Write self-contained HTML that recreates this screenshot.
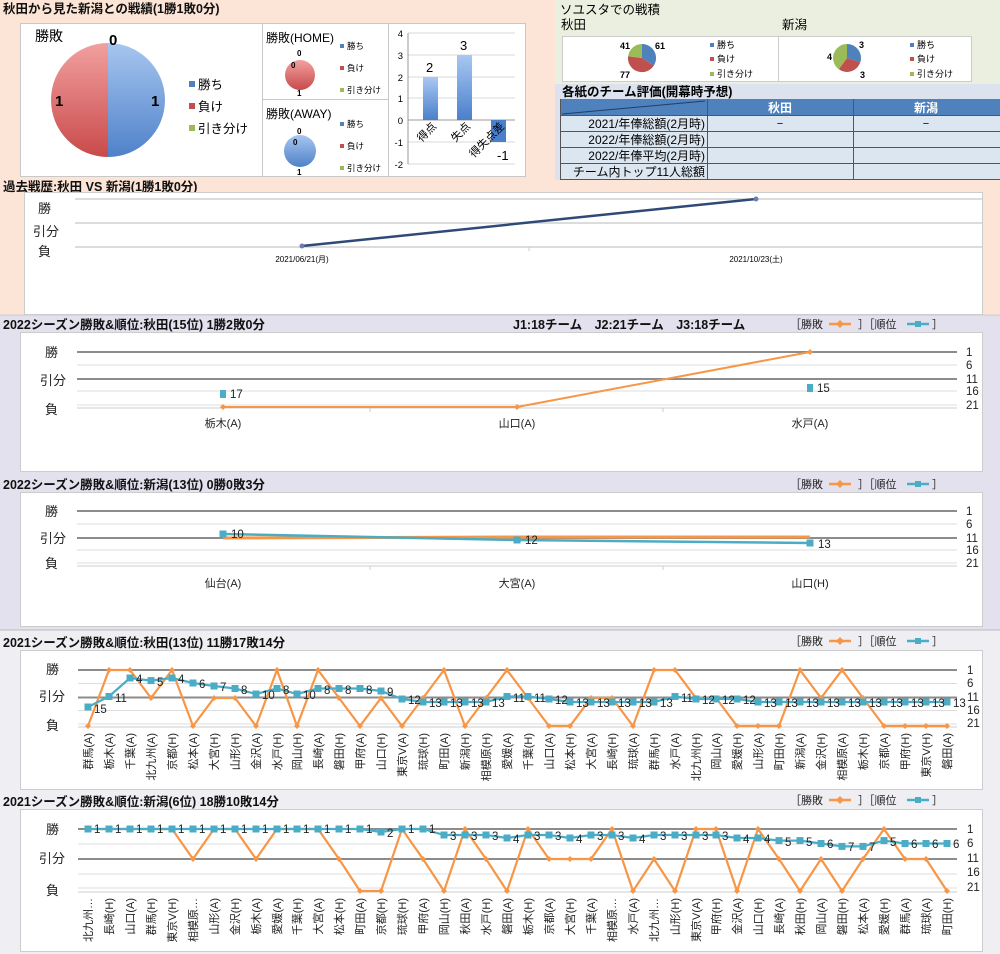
<!DOCTYPE html>
<html><head><meta charset="utf-8"><style>
html,body{margin:0;padding:0;background:#fff;}
svg{display:block;font-family:"Liberation Sans","Noto Sans CJK JP",sans-serif;}
.t{font-size:12.5px;font-weight:bold;fill:#111;}
.s{font-size:11px;fill:#222;}
.ax{font-size:13px;fill:#222;}
.rk{font-size:11.5px;fill:#222;}
.lb{font-size:11px;fill:#222;}
</style></head><body>
<svg width="1000" height="954" viewBox="0 0 1000 954" xmlns="http://www.w3.org/2000/svg">
<defs>
<linearGradient id="gb" x1="0" y1="0" x2="0" y2="1"><stop offset="0" stop-color="#a7c6f0"/><stop offset="1" stop-color="#4f81c9"/></linearGradient>
<linearGradient id="gr" x1="0" y1="0" x2="0" y2="1"><stop offset="0" stop-color="#f2a0a0"/><stop offset="1" stop-color="#c94a4a"/></linearGradient>
<linearGradient id="gbar" x1="0" y1="0" x2="0" y2="1"><stop offset="0" stop-color="#a9c8f2"/><stop offset="1" stop-color="#4a7fcb"/></linearGradient>
<marker id="sq" markerWidth="8" markerHeight="8" refX="4" refY="4" markerUnits="userSpaceOnUse"><rect x="0.5" y="0.5" width="7" height="7" fill="#4bacc6"/></marker>
<marker id="dm" markerWidth="6" markerHeight="6" refX="3" refY="3" markerUnits="userSpaceOnUse"><path d="M3,0 L6,3 L3,6 L0,3Z" fill="#f79646"/></marker>
</defs>
<!-- backgrounds -->
<rect x="0" y="0" width="1000" height="315" fill="#fce4d6"/>
<rect x="555" y="0" width="445" height="84" fill="#ebefdf"/>
<rect x="555" y="84" width="445" height="96" fill="#dce3ee"/>
<rect x="0" y="315" width="1000" height="315" fill="#e4e1ee"/>
<rect x="0" y="630" width="1000" height="324" fill="#efeef3"/>
<line x1="0" y1="630" x2="1000" y2="630" stroke="#bbb"/>
<line x1="0" y1="315" x2="1000" y2="315" stroke="#ccc"/>

<!-- top-left -->
<text class="t" x="3" y="13">秋田から見た新潟との戦績(1勝1敗0分)</text>
<rect x="20.5" y="23.5" width="505" height="153" fill="#fff" stroke="#c8c8c8"/>
<line x1="262.5" y1="23" x2="262.5" y2="177" stroke="#c8c8c8"/>
<line x1="388.5" y1="23" x2="388.5" y2="177" stroke="#c8c8c8"/>
<line x1="262" y1="99.5" x2="388" y2="99.5" stroke="#c8c8c8"/>
<text x="35" y="41" style="font-size:14px">勝敗</text>
<path d="M108,43 A57,57 0 0 1 108,157 Z" fill="url(#gb)"/>
<path d="M108,43 A57,57 0 0 0 108,157 Z" fill="url(#gr)"/>
<text x="109" y="45" style="font-size:15px;font-weight:bold">0</text>
<text x="55" y="106" style="font-size:15px;font-weight:bold">1</text>
<text x="151" y="106" style="font-size:15px;font-weight:bold">1</text>
<rect x="189" y="81" width="6" height="6" fill="#4f81bd"/><text x="198" y="89" style="font-size:12.5px">勝ち</text>
<rect x="189" y="103" width="6" height="6" fill="#c0504d"/><text x="198" y="111" style="font-size:12.5px">負け</text>
<rect x="189" y="125" width="6" height="6" fill="#9bbb59"/><text x="198" y="133" style="font-size:12.5px">引き分け</text>

<text x="266" y="42" style="font-size:12px">勝敗(HOME)</text>
<circle cx="300" cy="75" r="15" fill="url(#gr)"/>
<text x="297" y="56" style="font-size:8px;font-weight:bold">0</text>
<text x="291" y="68" style="font-size:8px;font-weight:bold">0</text>
<text x="297" y="96" style="font-size:8px;font-weight:bold">1</text>
<rect x="340" y="44" width="4" height="4" fill="#4f81bd"/><text x="347" y="49" style="font-size:8.5px">勝ち</text>
<rect x="340" y="66" width="4" height="4" fill="#c0504d"/><text x="347" y="71" style="font-size:8.5px">負け</text>
<rect x="340" y="88" width="4" height="4" fill="#9bbb59"/><text x="347" y="93" style="font-size:8.5px">引き分け</text>
<text x="266" y="118" style="font-size:12px">勝敗(AWAY)</text>
<circle cx="300" cy="151" r="16" fill="url(#gb)"/>
<text x="297" y="134" style="font-size:8px;font-weight:bold">0</text>
<text x="293" y="145" style="font-size:8px;font-weight:bold">0</text>
<text x="297" y="175" style="font-size:8px;font-weight:bold">1</text>
<rect x="340" y="122" width="4" height="4" fill="#4f81bd"/><text x="347" y="127" style="font-size:8.5px">勝ち</text>
<rect x="340" y="144" width="4" height="4" fill="#c0504d"/><text x="347" y="149" style="font-size:8.5px">負け</text>
<rect x="340" y="166" width="4" height="4" fill="#9bbb59"/><text x="347" y="171" style="font-size:8.5px">引き分け</text>

<g stroke="#d9d9d9"><line x1="408" y1="33" x2="515" y2="33"/><line x1="408" y1="55" x2="515" y2="55"/><line x1="408" y1="77" x2="515" y2="77"/><line x1="408" y1="98" x2="515" y2="98"/><line x1="408" y1="142" x2="515" y2="142"/><line x1="408" y1="164" x2="515" y2="164"/></g>
<line x1="408" y1="120" x2="515" y2="120" stroke="#999"/>
<line x1="408" y1="33" x2="408" y2="164" stroke="#999"/>
<g style="font-size:9.5px" text-anchor="end"><text x="403" y="37">4</text><text x="403" y="59">3</text><text x="403" y="81">2</text><text x="403" y="102">1</text><text x="403" y="124">0</text><text x="403" y="146">-1</text><text x="403" y="168">-2</text></g>
<rect x="423" y="77" width="15" height="43" fill="url(#gbar)"/>
<rect x="457" y="55" width="15" height="65" fill="url(#gbar)"/>
<rect x="491" y="120" width="15" height="22" fill="#4a7fcb"/>
<text x="426" y="72" style="font-size:13px">2</text>
<text x="460" y="50" style="font-size:13px">3</text>
<text x="497" y="160" style="font-size:13px">-1</text>
<g style="font-size:11px"><text transform="translate(437,127) rotate(-45)" text-anchor="end">得点</text><text transform="translate(471,127) rotate(-45)" text-anchor="end">失点</text><text transform="translate(505,127) rotate(-45)" text-anchor="end">得失点差</text></g>

<!-- top-right -->
<text x="560" y="14" style="font-size:12.5px">ソユスタでの戦積</text>
<text x="561" y="29" style="font-size:12.5px">秋田</text>
<text x="782" y="29" style="font-size:12.5px">新潟</text>
<rect x="562.5" y="36.5" width="216" height="45" fill="#fff" stroke="#ccc"/>
<rect x="778.5" y="36.5" width="193" height="45" fill="#fff" stroke="#ccc"/>
<path d="M642,58 L642,44 A14,14 0 0 1 653.8,65.6 Z" fill="#4f81bd"/>
<path d="M642,58 L653.8,65.6 A14,14 0 0 1 628.1,56.2 Z" fill="#c0504d"/>
<path d="M642,58 L628.1,56.2 A14,14 0 0 1 642,44 Z" fill="#9bbb59"/>
<g style="font-size:9px;font-weight:bold"><text x="620" y="49">41</text><text x="655" y="49">61</text><text x="620" y="78">77</text></g>
<rect x="710" y="43" width="4" height="4" fill="#4f81bd"/><text x="717" y="48" style="font-size:9px">勝ち</text>
<rect x="710" y="57" width="4" height="4" fill="#c0504d"/><text x="717" y="62" style="font-size:9px">負け</text>
<rect x="710" y="72" width="4" height="4" fill="#9bbb59"/><text x="717" y="77" style="font-size:9px">引き分け</text>
<path d="M847,58 L847,44 A14,14 0 0 1 860.3,62.3 Z" fill="#4f81bd"/>
<path d="M847,58 L860.3,62.3 A14,14 0 0 1 838.8,69.3 Z" fill="#c0504d"/>
<path d="M847,58 L838.8,69.3 A14,14 0 0 1 847,44 Z" fill="#9bbb59"/>
<g style="font-size:9px;font-weight:bold"><text x="859" y="48">3</text><text x="827" y="60">4</text><text x="860" y="78">3</text></g>
<rect x="910" y="43" width="4" height="4" fill="#4f81bd"/><text x="917" y="48" style="font-size:9px">勝ち</text>
<rect x="910" y="57" width="4" height="4" fill="#c0504d"/><text x="917" y="62" style="font-size:9px">負け</text>
<rect x="910" y="72" width="4" height="4" fill="#9bbb59"/><text x="917" y="77" style="font-size:9px">引き分け</text>
<text x="562" y="96" style="font-size:12.5px;font-weight:bold">各紙のチーム評価(開幕時予想)</text>
<rect x="560" y="99" width="440" height="16" fill="#4f81bd"/>
<rect x="560" y="115" width="440" height="64" fill="#dce6f1"/>
<line x1="562" y1="114" x2="705" y2="101" stroke="#1f3d6b"/>
<g stroke="#555" stroke-width="1"><line x1="560" y1="115.5" x2="1000" y2="115.5"/><line x1="560" y1="131.5" x2="1000" y2="131.5"/><line x1="560" y1="147.5" x2="1000" y2="147.5"/><line x1="560" y1="163.5" x2="1000" y2="163.5"/><line x1="560" y1="179.5" x2="1000" y2="179.5"/><line x1="560.5" y1="99" x2="560.5" y2="180"/><line x1="707.5" y1="99" x2="707.5" y2="180"/><line x1="853.5" y1="99" x2="853.5" y2="180"/></g>
<text x="780" y="112" text-anchor="middle" style="font-size:12px;font-weight:bold;fill:#fff">秋田</text>
<text x="926" y="112" text-anchor="middle" style="font-size:12px;font-weight:bold;fill:#fff">新潟</text>
<g style="font-size:12px" text-anchor="end"><text x="705" y="128">2021/年俸総額(2月時)</text><text x="705" y="144">2022/年俸総額(2月時)</text><text x="705" y="160">2022/年俸平均(2月時)</text><text x="705" y="176">チーム内トップ11人総額</text></g>
<text x="780" y="127" text-anchor="middle" style="font-size:11px">−</text>
<text x="926" y="127" text-anchor="middle" style="font-size:11px">−</text>

<!-- past history -->
<text class="t" x="3" y="191">過去戦歴:秋田 VS 新潟(1勝1敗0分)</text>
<rect x="24.5" y="192.5" width="958" height="122" fill="#fff" stroke="#ccc"/>
<g stroke="#d0d0d0" stroke-width="1.5"><line x1="75" y1="199" x2="982" y2="199"/><line x1="75" y1="223" x2="982" y2="223"/><line x1="75" y1="247" x2="982" y2="247"/></g>
<line x1="529" y1="247" x2="529" y2="251" stroke="#ccc"/>
<polyline points="302,246 756,199" fill="none" stroke="#2f4a78" stroke-width="2.5"/>
<circle cx="302" cy="246" r="2.5" fill="#6a7fb0"/><circle cx="756" cy="199" r="2.5" fill="#6a7fb0"/>
<text class="ax" x="38" y="213">勝</text><text class="ax" x="33" y="236">引分</text><text class="ax" x="38" y="256">負</text>
<text x="302" y="262" text-anchor="middle" style="font-size:8px">2021/06/21(月)</text>
<text x="756" y="262" text-anchor="middle" style="font-size:8px">2021/10/23(土)</text>

<!-- 2022 Akita -->
<text class="t" x="3" y="329">2022シーズン勝敗&amp;順位:秋田(15位) 1勝2敗0分</text>
<text class="t" x="513" y="329">J1:18チーム　J2:21チーム　J3:18チーム</text>
<g id="lg1"><text x="790" y="328" class="s">［勝敗</text><line x1="829" y1="324" x2="851" y2="324" stroke="#f79646" stroke-width="2.5"/><path d="M840,320 L844,324 L840,328 L836,324Z" fill="#f79646"/><text x="858" y="328" class="s">］［順位</text><line x1="907" y1="324" x2="929" y2="324" stroke="#4bacc6" stroke-width="2.5"/><rect x="915" y="321" width="6" height="6" fill="#4bacc6"/><text x="932" y="328" class="s">］</text></g>
<rect x="20.5" y="332.5" width="962" height="139" fill="#fff" stroke="#ccc"/>
<g stroke="#ddd"><line x1="77" y1="365" x2="957" y2="365"/><line x1="77" y1="391" x2="957" y2="391"/><line x1="77" y1="405" x2="957" y2="405"/></g>
<g stroke="#8c8c8c" stroke-width="2"><line x1="77" y1="352" x2="957" y2="352"/><line x1="77" y1="379" x2="957" y2="379"/></g>
<line x1="77" y1="408" x2="957" y2="408" stroke="#ccc"/>
<g stroke="#ccc"><line x1="370" y1="408" x2="370" y2="412"/><line x1="663" y1="408" x2="663" y2="412"/></g>
<text class="ax" x="45" y="357">勝</text><text class="ax" x="40" y="385">引分</text><text class="ax" x="45" y="414">負</text>
<g class="rk"><text x="966" y="356">1</text><text x="966" y="369">6</text><text x="966" y="383">11</text><text x="966" y="395">16</text><text x="966" y="409">21</text></g>
<polyline points="223,407 517,407 810,352" fill="none" stroke="#f79646" stroke-width="2" marker-start="url(#dm)" marker-mid="url(#dm)" marker-end="url(#dm)"/>
<rect x="220" y="390" width="6" height="8" fill="#4bacc6"/><text class="rk" x="230" y="398">17</text>
<rect x="807" y="384" width="6" height="8" fill="#4bacc6"/><text class="rk" x="817" y="392">15</text>
<g class="lb" text-anchor="middle"><text x="223" y="427">栃木(A)</text><text x="517" y="427">山口(A)</text><text x="810" y="427">水戸(A)</text></g>

<!-- 2022 Niigata -->
<text class="t" x="3" y="489">2022シーズン勝敗&amp;順位:新潟(13位) 0勝0敗3分</text>
<use href="#lg1" transform="translate(0,160)"/>
<rect x="20.5" y="492.5" width="962" height="134" fill="#fff" stroke="#ccc"/>
<g stroke="#ddd"><line x1="77" y1="524" x2="957" y2="524"/><line x1="77" y1="550" x2="957" y2="550"/><line x1="77" y1="563" x2="957" y2="563"/></g>
<g stroke="#8c8c8c" stroke-width="2"><line x1="77" y1="511" x2="957" y2="511"/><line x1="77" y1="538" x2="957" y2="538"/></g>
<line x1="77" y1="566" x2="957" y2="566" stroke="#ccc"/>
<g stroke="#ccc"><line x1="370" y1="566" x2="370" y2="570"/><line x1="663" y1="566" x2="663" y2="570"/></g>
<text class="ax" x="45" y="516">勝</text><text class="ax" x="40" y="543">引分</text><text class="ax" x="45" y="568">負</text>
<g class="rk"><text x="966" y="515">1</text><text x="966" y="528">6</text><text x="966" y="542">11</text><text x="966" y="554">16</text><text x="966" y="567">21</text></g>
<polyline points="223,538 517,537 810,537" fill="none" stroke="#f79646" stroke-width="3"/>
<polyline points="223,534 517,540 810,543" fill="none" stroke="#4bacc6" stroke-width="2.5" marker-start="url(#sq)" marker-mid="url(#sq)" marker-end="url(#sq)"/>
<text class="rk" x="231" y="538">10</text><text class="rk" x="525" y="544">12</text><text class="rk" x="818" y="548">13</text>
<g class="lb" text-anchor="middle"><text x="223" y="587">仙台(A)</text><text x="517" y="587">大宮(A)</text><text x="810" y="587">山口(H)</text></g>

<!-- 2021 Akita -->
<text class="t" x="3" y="647">2021シーズン勝敗&amp;順位:秋田(13位) 11勝17敗14分</text>
<use href="#lg1" transform="translate(0,317)"/>
<rect x="20.5" y="650.5" width="962" height="139" fill="#fff" stroke="#ccc"/>
<g stroke="#ddd"><line x1="78" y1="683.5" x2="957" y2="683.5"/><line x1="78" y1="710.5" x2="957" y2="710.5"/><line x1="78" y1="724" x2="957" y2="724"/></g>
<g stroke="#8c8c8c" stroke-width="2"><line x1="78" y1="670" x2="957" y2="670"/><line x1="78" y1="697.5" x2="957" y2="697.5"/></g>
<line x1="78" y1="727" x2="957" y2="727" stroke="#ccc"/>
<text class="ax" x="46" y="674">勝</text><text class="ax" x="39" y="701">引分</text><text class="ax" x="46" y="730">負</text>
<g class="rk"><text x="967" y="674">1</text><text x="967" y="687">6</text><text x="967" y="701">11</text><text x="967" y="714">16</text><text x="967" y="727">21</text></g>
<polyline points="88,726 109,670 130,670 151,698 172,670 193,726 214,698 235,698 256,726 277,670 297,726 318,670 339,698 360,726 381,698 402,726 423,698 444,670 465,726 486,698 507,670 528,698 549,726 570,726 591,698 612,698 633,726 654,670 675,670 696,698 716,698 737,726 758,726 779,726 800,670 821,698 842,670 863,698 884,726 905,726 926,726 947,726" fill="none" stroke="#f79646" stroke-width="2.2" marker-start="url(#dm)" marker-mid="url(#dm)" marker-end="url(#dm)"/>
<polyline points="88,707 109,696.5 130,678 151,680.6 172,678 193,683 214,686 235,688.5 256,694 277,688.5 297,694 318,688.5 339,688.5 360,688.5 381,691 402,699 423,702 444,702 465,702 486,702 507,696.5 528,696.5 549,699 570,702 591,702 612,702 633,702 654,702 675,696.5 696,699 716,699 737,699 758,702 779,702 800,702 821,702 842,702 863,702 884,702 905,702 926,702 947,702" fill="none" stroke="#4bacc6" stroke-width="2.2" marker-start="url(#sq)" marker-mid="url(#sq)" marker-end="url(#sq)"/>
<g class="rk"><text x="94" y="713">15</text><text x="115" y="702">11</text><text x="136" y="683">4</text><text x="157" y="686">5</text><text x="178" y="683">4</text><text x="199" y="688">6</text><text x="220" y="691">7</text><text x="241" y="694">8</text><text x="262" y="699">10</text><text x="283" y="694">8</text><text x="303" y="699">10</text><text x="324" y="694">8</text><text x="345" y="694">8</text><text x="366" y="694">8</text><text x="387" y="696">9</text><text x="408" y="704">12</text><text x="429" y="707">13</text><text x="450" y="707">13</text><text x="471" y="707">13</text><text x="492" y="707">13</text><text x="513" y="702">11</text><text x="534" y="702">11</text><text x="555" y="704">12</text><text x="576" y="707">13</text><text x="597" y="707">13</text><text x="618" y="707">13</text><text x="639" y="707">13</text><text x="660" y="707">13</text><text x="681" y="702">11</text><text x="702" y="704">12</text><text x="722" y="704">12</text><text x="743" y="704">12</text><text x="764" y="707">13</text><text x="785" y="707">13</text><text x="806" y="707">13</text><text x="827" y="707">13</text><text x="848" y="707">13</text><text x="869" y="707">13</text><text x="890" y="707">13</text><text x="911" y="707">13</text><text x="932" y="707">13</text><text x="953" y="707">13</text></g>
<g class="lb" text-anchor="end">
<text transform="translate(92,733) rotate(-90)">群馬(A)</text><text transform="translate(113,733) rotate(-90)">栃木(A)</text><text transform="translate(134,733) rotate(-90)">千葉(A)</text><text transform="translate(155,733) rotate(-90)">北九州(A)</text><text transform="translate(176,733) rotate(-90)">京都(H)</text><text transform="translate(197,733) rotate(-90)">松本(A)</text><text transform="translate(218,733) rotate(-90)">大宮(H)</text><text transform="translate(239,733) rotate(-90)">山形(H)</text><text transform="translate(260,733) rotate(-90)">金沢(A)</text><text transform="translate(281,733) rotate(-90)">水戸(H)</text><text transform="translate(301,733) rotate(-90)">岡山(H)</text><text transform="translate(322,733) rotate(-90)">長崎(A)</text><text transform="translate(343,733) rotate(-90)">磐田(H)</text><text transform="translate(364,733) rotate(-90)">甲府(A)</text><text transform="translate(385,733) rotate(-90)">山口(H)</text><text transform="translate(406,733) rotate(-90)">東京V(A)</text><text transform="translate(427,733) rotate(-90)">琉球(H)</text><text transform="translate(448,733) rotate(-90)">町田(A)</text><text transform="translate(469,733) rotate(-90)">新潟(H)</text><text transform="translate(490,733) rotate(-90)">相模原(H)</text><text transform="translate(511,733) rotate(-90)">愛媛(A)</text><text transform="translate(532,733) rotate(-90)">千葉(H)</text><text transform="translate(553,733) rotate(-90)">山口(A)</text><text transform="translate(574,733) rotate(-90)">松本(H)</text><text transform="translate(595,733) rotate(-90)">大宮(A)</text><text transform="translate(616,733) rotate(-90)">長崎(H)</text><text transform="translate(637,733) rotate(-90)">琉球(A)</text><text transform="translate(658,733) rotate(-90)">群馬(H)</text><text transform="translate(679,733) rotate(-90)">水戸(A)</text><text transform="translate(700,733) rotate(-90)">北九州(H)</text><text transform="translate(720,733) rotate(-90)">岡山(A)</text><text transform="translate(741,733) rotate(-90)">愛媛(H)</text><text transform="translate(762,733) rotate(-90)">山形(A)</text><text transform="translate(783,733) rotate(-90)">町田(H)</text><text transform="translate(804,733) rotate(-90)">新潟(A)</text><text transform="translate(825,733) rotate(-90)">金沢(H)</text><text transform="translate(846,733) rotate(-90)">相模原(A)</text><text transform="translate(867,733) rotate(-90)">栃木(H)</text><text transform="translate(888,733) rotate(-90)">京都(A)</text><text transform="translate(909,733) rotate(-90)">甲府(H)</text><text transform="translate(930,733) rotate(-90)">東京V(H)</text><text transform="translate(951,733) rotate(-90)">磐田(A)</text>
</g>

<!-- 2021 Niigata -->
<text class="t" x="3" y="806">2021シーズン勝敗&amp;順位:新潟(6位) 18勝10敗14分</text>
<use href="#lg1" transform="translate(0,476)"/>
<rect x="20.5" y="809.5" width="962" height="142" fill="#fff" stroke="#ccc"/>
<g stroke="#ddd"><line x1="78" y1="844" x2="957" y2="844"/><line x1="78" y1="874" x2="957" y2="874"/><line x1="78" y1="888" x2="957" y2="888"/></g>
<g stroke="#8c8c8c" stroke-width="2"><line x1="78" y1="829" x2="957" y2="829"/><line x1="78" y1="859" x2="957" y2="859"/></g>
<line x1="78" y1="892" x2="957" y2="892" stroke="#ccc"/>
<text class="ax" x="46" y="834">勝</text><text class="ax" x="39" y="863">引分</text><text class="ax" x="46" y="895">負</text>
<g class="rk"><text x="967" y="833">1</text><text x="967" y="847">6</text><text x="967" y="862">11</text><text x="967" y="876">16</text><text x="967" y="891">21</text></g>
<polyline points="88,829 109,829 130,829 151,829 172,829 193,859 214,829 235,829 256,859 277,829 297,829 318,829 339,859 360,891 381,891 402,829 423,859 444,891 465,829 486,859 507,891 528,829 549,859 570,859 591,859 612,829 633,891 654,859 675,891 696,829 716,829 737,891 758,829 779,859 800,891 821,859 842,891 863,859 884,829 905,859 926,859 947,891" fill="none" stroke="#f79646" stroke-width="2.2" marker-start="url(#dm)" marker-mid="url(#dm)" marker-end="url(#dm)"/>
<polyline points="88,829 109,829 130,829 151,829 172,829 193,829 214,829 235,829 256,829 277,829 297,829 318,829 339,829 360,829 381,832 402,829 423,829 444,835 465,835 486,835 507,838 528,835 549,835 570,838 591,835 612,835 633,838 654,835 675,835 696,835 716,835 737,838 758,838 779,840.6 800,840.6 821,843.5 842,846.4 863,846.4 884,840.6 905,843.5 926,843.5 947,843.5" fill="none" stroke="#4bacc6" stroke-width="2.2" marker-start="url(#sq)" marker-mid="url(#sq)" marker-end="url(#sq)"/>
<g class="rk"><text x="94" y="833">1</text><text x="115" y="833">1</text><text x="136" y="833">1</text><text x="157" y="833">1</text><text x="178" y="833">1</text><text x="199" y="833">1</text><text x="220" y="833">1</text><text x="241" y="833">1</text><text x="262" y="833">1</text><text x="283" y="833">1</text><text x="303" y="833">1</text><text x="324" y="833">1</text><text x="345" y="833">1</text><text x="366" y="833">1</text><text x="387" y="837">2</text><text x="408" y="833">1</text><text x="429" y="833">1</text><text x="450" y="840">3</text><text x="471" y="840">3</text><text x="492" y="840">3</text><text x="513" y="843">4</text><text x="534" y="840">3</text><text x="555" y="840">3</text><text x="576" y="843">4</text><text x="597" y="840">3</text><text x="618" y="840">3</text><text x="639" y="843">4</text><text x="660" y="840">3</text><text x="681" y="840">3</text><text x="702" y="840">3</text><text x="722" y="840">3</text><text x="743" y="843">4</text><text x="764" y="843">4</text><text x="785" y="846">5</text><text x="806" y="846">5</text><text x="827" y="848">6</text><text x="848" y="851">7</text><text x="869" y="851">7</text><text x="890" y="846">5</text><text x="911" y="848">6</text><text x="932" y="848">6</text><text x="953" y="848">6</text></g>
<g class="lb" text-anchor="end">
<text transform="translate(92,898) rotate(-90)">北九州…</text><text transform="translate(113,898) rotate(-90)">長崎(H)</text><text transform="translate(134,898) rotate(-90)">山口(A)</text><text transform="translate(155,898) rotate(-90)">群馬(H)</text><text transform="translate(176,898) rotate(-90)">東京V(H)</text><text transform="translate(197,898) rotate(-90)">相模原…</text><text transform="translate(218,898) rotate(-90)">山形(A)</text><text transform="translate(239,898) rotate(-90)">金沢(H)</text><text transform="translate(260,898) rotate(-90)">栃木(A)</text><text transform="translate(281,898) rotate(-90)">愛媛(A)</text><text transform="translate(301,898) rotate(-90)">千葉(H)</text><text transform="translate(322,898) rotate(-90)">大宮(A)</text><text transform="translate(343,898) rotate(-90)">松本(H)</text><text transform="translate(364,898) rotate(-90)">町田(A)</text><text transform="translate(385,898) rotate(-90)">京都(H)</text><text transform="translate(406,898) rotate(-90)">琉球(H)</text><text transform="translate(427,898) rotate(-90)">甲府(A)</text><text transform="translate(448,898) rotate(-90)">岡山(H)</text><text transform="translate(469,898) rotate(-90)">秋田(A)</text><text transform="translate(490,898) rotate(-90)">水戸(H)</text><text transform="translate(511,898) rotate(-90)">磐田(A)</text><text transform="translate(532,898) rotate(-90)">栃木(H)</text><text transform="translate(553,898) rotate(-90)">京都(A)</text><text transform="translate(574,898) rotate(-90)">大宮(H)</text><text transform="translate(595,898) rotate(-90)">千葉(A)</text><text transform="translate(616,898) rotate(-90)">相模原…</text><text transform="translate(637,898) rotate(-90)">水戸(A)</text><text transform="translate(658,898) rotate(-90)">北九州…</text><text transform="translate(679,898) rotate(-90)">山形(H)</text><text transform="translate(700,898) rotate(-90)">東京V(A)</text><text transform="translate(720,898) rotate(-90)">甲府(H)</text><text transform="translate(741,898) rotate(-90)">金沢(A)</text><text transform="translate(762,898) rotate(-90)">山口(H)</text><text transform="translate(783,898) rotate(-90)">長崎(A)</text><text transform="translate(804,898) rotate(-90)">秋田(H)</text><text transform="translate(825,898) rotate(-90)">岡山(A)</text><text transform="translate(846,898) rotate(-90)">磐田(H)</text><text transform="translate(867,898) rotate(-90)">松本(A)</text><text transform="translate(888,898) rotate(-90)">愛媛(H)</text><text transform="translate(909,898) rotate(-90)">群馬(A)</text><text transform="translate(930,898) rotate(-90)">琉球(A)</text><text transform="translate(951,898) rotate(-90)">町田(H)</text>
</g>
</svg>
</body></html>
